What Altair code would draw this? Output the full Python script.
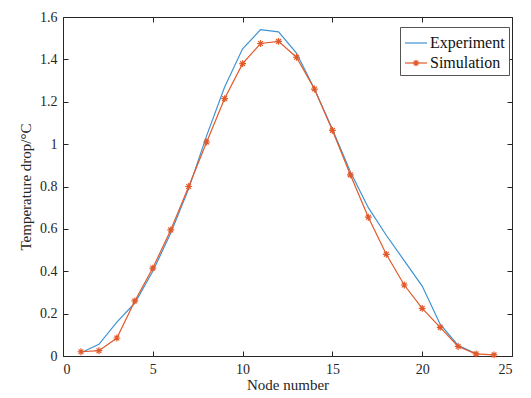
import altair as alt
import pandas as pd

nodes_exp = list(range(1, 24))
experiment = [0.015, 0.055, 0.16, 0.25, 0.40, 0.58, 0.79, 1.04, 1.27, 1.45, 1.54, 1.53,
              1.43, 1.26, 1.07, 0.87, 0.70, 0.57, 0.45, 0.33, 0.15, 0.05, 0.01]
nodes_sim = list(range(1, 25))
simulation = [0.02, 0.025, 0.085, 0.26, 0.415, 0.595, 0.80, 1.01, 1.215, 1.38, 1.475, 1.485,
              1.41, 1.26, 1.065, 0.855, 0.655, 0.48, 0.335, 0.225, 0.135, 0.045, 0.01, 0.005]
series_names = ["Experiment", "Simulation"]
series_colors = ["#3f93d3", "#e2592a"]
x_ticks = [0, 5, 10, 15, 20, 25]
y_ticks = [0, 0.2, 0.4, 0.6, 0.8, 1, 1.2, 1.4, 1.6]

df = pd.concat([
    pd.DataFrame({"node": nodes_exp, "value": experiment, "series": "Experiment"}),
    pd.DataFrame({"node": nodes_sim, "value": simulation, "series": "Simulation"}),
])

FONT = "Liberation Serif"
STAR = "M-0.3,0L0.3,0M0,-0.3L0,0.3M-0.21,-0.21L0.21,0.21M-0.21,0.21L0.21,-0.21"

xs = alt.Scale(domain=[0, 25], nice=False)
ys = alt.Scale(domain=[0, 1.6], nice=False)

axis_common = dict(domain=False, grid=False, ticks=True, tickSize=5, offset=-5,
                   tickColor="#262626", labelFont=FONT, labelFontSize=14,
                   labelColor="#262626", titleFont=FONT, titleFontSize=15,
                   titleColor="#262626", titleFontWeight="normal")

LEG_X, LEG_Y = 337, 10
leg_common = dict(title=None, orient="none", legendX=LEG_X, legendY=LEG_Y,
                  symbolSize=484, symbolStrokeWidth=1.2, labelFont=FONT, labelFontSize=16,
                  padding=4, rowPadding=0, labelOffset=2)

lines = alt.Chart(df).mark_line(strokeWidth=1.2).encode(
    x=alt.X("node:Q", scale=xs,
            axis=alt.Axis(orient="bottom", values=x_ticks, title="Node number",
                          labelPadding=6, titlePadding=1, **axis_common)),
    y=alt.Y("value:Q", scale=ys,
            axis=alt.Axis(orient="left", values=y_ticks, format="~g",
                          title="Temperature drop/°C", labelPadding=6,
                          titlePadding=6, **axis_common)),
    color=alt.Color("series:N", scale=alt.Scale(range=series_colors),
                    legend=alt.Legend(symbolType="stroke", labelColor="#111",
                                      strokeColor="#555", fillColor="white", zindex=1,
                                      **leg_common)),
)

points = alt.Chart(df[df.series == "Simulation"]).mark_point(
    size=520, filled=False, strokeWidth=1.2, color=series_colors[1], opacity=1
).encode(
    x=alt.X("node:Q", scale=xs,
            axis=alt.Axis(orient="top", values=x_ticks, labels=False, title=None,
                          **axis_common)),
    y=alt.Y("value:Q", scale=ys,
            axis=alt.Axis(orient="right", values=y_ticks, labels=False, title=None,
                          **axis_common)),
    shape=alt.Shape("series:N",
                    scale=alt.Scale(domain=series_names, range=["M0,0", STAR]),
                    legend=alt.Legend(labelColor="transparent", strokeColor="transparent",
                                      fillColor="transparent",
                                      symbolStrokeColor=series_colors[1],
                                      symbolFillColor="transparent", zindex=2,
                                      **leg_common)),
)

chart = alt.layer(lines, points).resolve_axis(x="independent", y="independent").properties(
    width=449, height=339,
    autosize=alt.AutoSizeParams(type="none"),
    padding={"left": 55, "top": 9, "right": 10, "bottom": 40},
    background="white",
).configure_view(stroke="#262626", strokeWidth=1)

chart.save("out.html", embed_options={"renderer": "svg", "actions": False})
